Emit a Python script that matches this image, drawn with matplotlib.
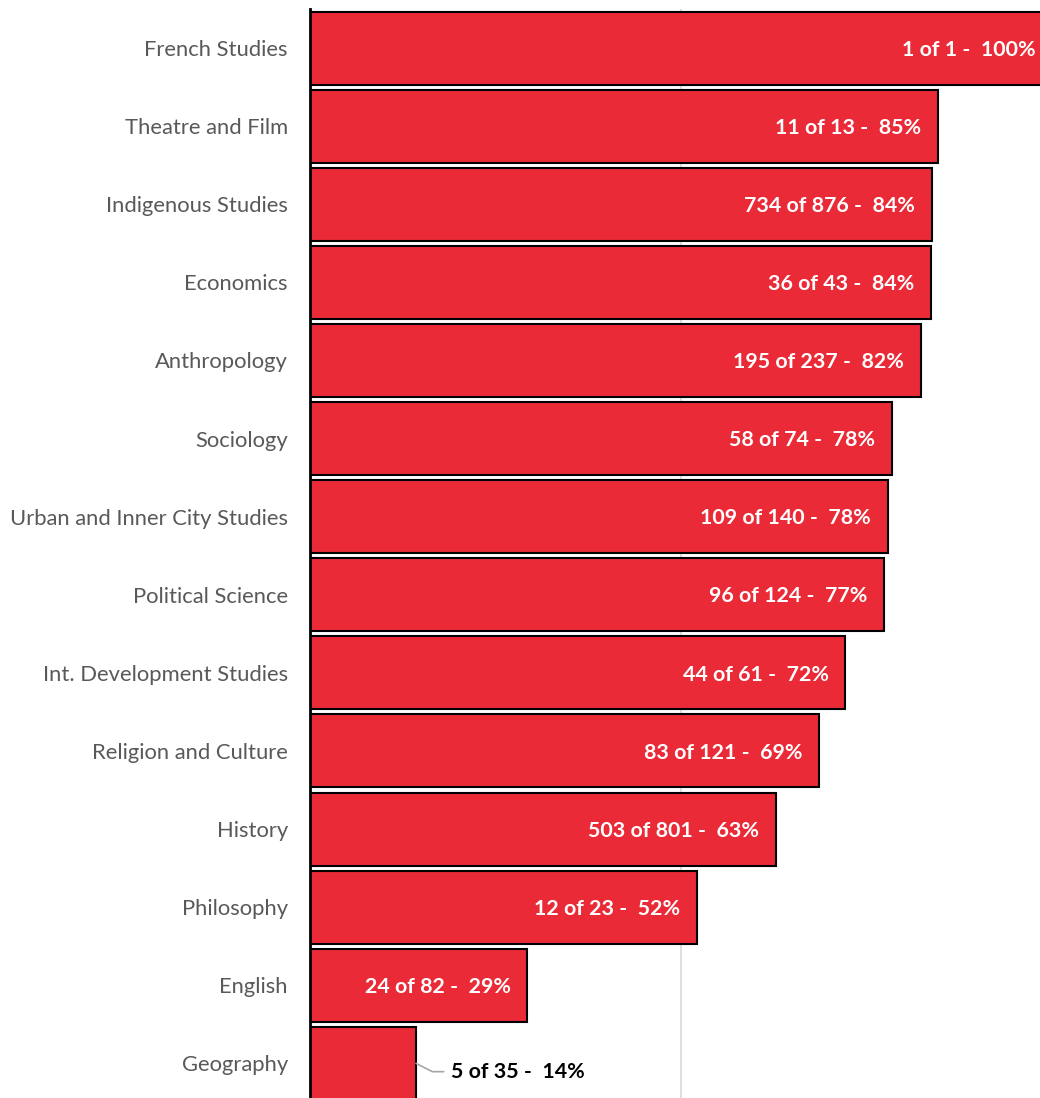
import matplotlib
matplotlib.use("Agg")
import matplotlib.pyplot as plt

# Course success counts by department
departments = [
    "French Studies", "Theatre and Film", "Indigenous Studies", "Economics",
    "Anthropology", "Sociology", "Urban and Inner City Studies",
    "Political Science", "Int. Development Studies", "Religion and Culture",
    "History", "Philosophy", "English", "Geography",
]
passed = [1, 11, 734, 36, 195, 58, 109, 96, 44, 83, 503, 12, 24, 5]
total = [1, 13, 876, 43, 237, 74, 140, 124, 61, 121, 801, 23, 82, 35]

shares = [p / t for p, t in zip(passed, total)]
labels = [f"{p} of {t} -  {round(100 * p / t)}%" for p, t in zip(passed, total)]

BAR_RED = "#EB2A37"
TEXT_GREY = "#595959"
FONT = ["Lato", "DejaVu Sans"]

W, H, DPI = 1040, 1098, 100
fig = plt.figure(figsize=(W / DPI, H / DPI), dpi=DPI)

# Plot area starts at the category axis and runs past the right edge of the canvas
left_px, top_px = 310, 9
unit_px = 742          # width of 0..100 %
pitch_px = 78.1        # height per category
n = len(departments)
ax = fig.add_axes([left_px / W, 1 - (top_px + n * pitch_px) / H,
                   unit_px / W, n * pitch_px / H])
ax.set_xlim(0, 1)
ax.set_ylim(n - 0.5, -0.5)

ypos = list(range(n))
ax.barh(ypos, shares, height=0.935, color=BAR_RED, edgecolor="black",
        linewidth=1.5, zorder=3)

# light vertical gridline(s) behind the bars
for g in (0.5, 1.0):
    ax.axvline(g, color="#d9d9d9", linewidth=1.2, zorder=1)

for s in ("top", "right", "bottom"):
    ax.spines[s].set_visible(False)
ax.spines["left"].set_linewidth(2)
ax.spines["left"].set_color("black")
ax.spines["left"].set_zorder(4)
ax.set_xticks([])
ax.set_yticks(ypos)
ax.set_yticklabels(departments, fontfamily=FONT, fontsize=15.8, color=TEXT_GREY)
ax.tick_params(axis="y", length=0, pad=16)

visible_right = (W - left_px) / unit_px

for i, (s, lab) in enumerate(zip(shares, labels)):
    if s < 0.2:
        # short bar: label sits outside with a leader line
        ax.annotate(lab, xy=(s, i), xytext=(25, -6), textcoords="offset points",
                    ha="left", va="center", fontfamily=FONT, fontsize=15.4,
                    fontweight="bold", color="black",
                    arrowprops=dict(arrowstyle="-", color="#a6a6a6", lw=1.2,
                                    shrinkA=3, shrinkB=0,
                                    connectionstyle="angle,angleA=0,angleB=-27"))
    else:
        if s > visible_right:
            x, off = visible_right, -3
        else:
            x, off = s, -12
        ax.annotate(lab, xy=(x, i), xytext=(off, -1.2), textcoords="offset points",
                    ha="right", va="center", fontfamily=FONT, fontsize=15.4,
                    fontweight="bold", color="white", zorder=5)

fig.savefig("out.png", dpi=DPI)
